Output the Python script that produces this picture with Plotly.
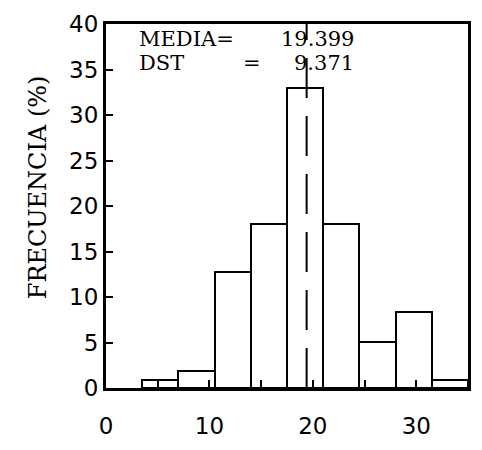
import plotly.graph_objects as go

# ---- data ----
bin_edges = [3.5, 7.0, 10.5, 14.0, 17.5, 21.0, 24.5, 28.0, 31.5, 35.0]
frecuencia = [0.9, 1.9, 12.7, 18.0, 33.0, 18.0, 5.1, 8.3, 0.9]
media = 19.399
dst = 9.371
x_tick_vals = [0, 5, 10, 15, 20, 25, 30]
x_tick_text = ["0", "", "10", "", "20", "", "30"]
y_tick_vals = [0, 5, 10, 15, 20, 25, 30, 35, 40]
y_tick_text = ["0", "5", "10", "15", "20", "25", "30", "35", "40"]

centers = [(a + b) / 2 for a, b in zip(bin_edges[:-1], bin_edges[1:])]
widths = [b - a for a, b in zip(bin_edges[:-1], bin_edges[1:])]

fig = go.Figure()
fig.add_trace(go.Bar(
    x=centers, y=frecuencia, width=widths,
    marker=dict(color="white", line=dict(color="black", width=2)),
    showlegend=False, hoverinfo="skip",
))

fig.add_shape(type="line", xref="x", yref="y", x0=media, x1=media, y0=0, y1=40,
              line=dict(color="black", width=2, dash="40px,18px"), layer="above")

W, H = 482, 450
L, R, T, B = 106, 11, 19, 53
pw, ph = W - L - R, H - T - B

def px(xp):
    return (xp - L) / pw

def py(yp):
    return (H - B - yp) / ph

txt_font = dict(family="DejaVu Serif", size=21, color="black")
ann = [
    dict(text="MEDIA=", x=px(137), y=py(35), xanchor="left", yanchor="middle"),
    dict(text=f"{media:.3f}", x=px(358), y=py(35), xanchor="right", yanchor="middle"),
    dict(text="DST", x=px(137), y=py(60), xanchor="left", yanchor="middle"),
    dict(text="=", x=px(253), y=py(60), xanchor="center", yanchor="middle"),
    dict(text=f"{dst:.3f}", x=px(358), y=py(60), xanchor="right", yanchor="middle"),
]
for a in ann:
    a.update(xref="paper", yref="paper", showarrow=False, font=txt_font)
ann.append(dict(text="FRECUENCIA (%)", x=px(37), y=py(189), xref="paper", yref="paper",
                xanchor="center", yanchor="middle", textangle=-90, showarrow=False,
                font=dict(family="DejaVu Serif", size=24, color="black")))

axis_common = dict(
    showline=True, linecolor="black", linewidth=3, mirror=True,
    ticks="inside", tickcolor="black", tickwidth=2,
    showgrid=False, zeroline=False,
    tickfont=dict(family="DejaVu Sans", size=23, color="black"),
)

fig.update_layout(
    width=W, height=H,
    margin=dict(l=L, r=R, t=T, b=B, pad=0),
    paper_bgcolor="white", plot_bgcolor="white",
    bargap=0,
    xaxis=dict(range=[0, 35], tickmode="array", tickvals=x_tick_vals, ticktext=x_tick_text,
               ticklen=8, ticklabelstandoff=15, **axis_common),
    yaxis=dict(range=[0, 40], tickmode="array", tickvals=y_tick_vals, ticktext=y_tick_text,
               ticklen=7, ticklabelstandoff=0, **axis_common),
    annotations=ann,
)

fig.write_html("out.html")
